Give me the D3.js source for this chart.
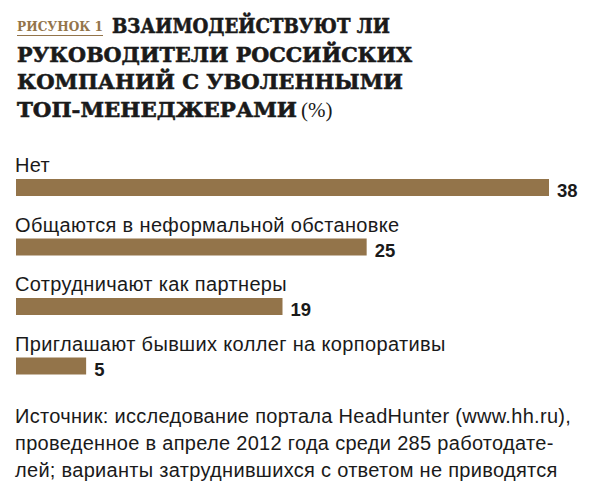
<!DOCTYPE html>
<html lang="ru">
<head>
<meta charset="UTF-8">
<title>Взаимодействуют ли руководители</title>
<script src="https://d3js.org/d3.v7.min.js"></script>
<style>
  body { margin: 0; padding: 0; background: #fff; }
  svg { display: block; }
</style>
</head>
<body>
<div id="chart"></div>
<script>
  const width = 600;
  const height = 488;

  const categories = [
    "Нет",
    "Общаются в неформальной обстановке",
    "Сотрудничают как партнеры",
    "Приглашают бывших коллег на корпоративы"
  ];
  const values = [38, 25, 19, 5];

  const titleLines = [
    "ВЗАИМОДЕЙСТВУЮТ ЛИ",
    "РУКОВОДИТЕЛИ РОССИЙСКИХ",
    "КОМПАНИЙ С УВОЛЕННЫМИ",
    "ТОП-МЕНЕДЖЕРАМИ"
  ];
  const sourceLines = [
    "Источник: исследование портала HeadHunter (www.hh.ru),",
    "проведенное в апреле 2012 года среди 285 работодате-",
    "лей; варианты затруднившихся с ответом не приводятся"
  ];

  const brown = "#93744a";
  const sans = "'Liberation Sans', Arial, sans-serif";
  const serif = "'DejaVu Serif', 'Liberation Serif', serif";

  const svg = d3.select("#chart").append("svg")
    .attr("width", width)
    .attr("height", height);

  // title block
  svg.append("text")
    .attr("x", 17).attr("y", 31)
    .attr("font-family", serif).attr("font-weight", "bold")
    .attr("font-size", 12).attr("fill", brown)
    .attr("textLength", 86).attr("lengthAdjust", "spacingAndGlyphs")
    .text("РИСУНОК 1");
  svg.append("line")
    .attr("x1", 17).attr("x2", 103).attr("y1", 35.5).attr("y2", 35.5)
    .attr("stroke", brown).attr("stroke-width", 1);

  const titleX = [112, 17, 17, 17];
  const titleW = [278, 395, 386, 280];
  const titleY = [33, 62, 89, 117];
  svg.append("g").selectAll("text")
    .data(titleLines)
    .join("text")
    .attr("x", (d, i) => titleX[i])
    .attr("y", (d, i) => titleY[i])
    .attr("font-family", serif).attr("font-weight", "bold")
    .attr("font-size", 21).attr("fill", "#1a1a1a")
    .attr("stroke", "#1a1a1a").attr("stroke-width", 0.6)
    .attr("textLength", (d, i) => titleW[i])
    .attr("lengthAdjust", "spacingAndGlyphs")
    .text(d => d);
  svg.append("text")
    .attr("x", 301).attr("y", 117)
    .attr("font-family", "'Liberation Serif', serif")
    .attr("font-size", 21).attr("fill", "#1a1a1a")
    .text("(%)");

  // bars
  const x = d3.scaleLinear().domain([0, 38]).range([16, 549]);
  const y = d3.scaleBand().domain(categories).range([145, 383]);

  const rows = svg.append("g").selectAll("g")
    .data(categories)
    .join("g")
    .attr("transform", d => `translate(0,${y(d)})`);

  rows.append("text")
    .attr("x", 15).attr("y", 27)
    .attr("font-family", sans).attr("font-size", 20)
    .attr("letter-spacing", 0.35).attr("fill", "#1a1a1a")
    .text(d => d);

  rows.append("rect")
    .attr("x", x(0)).attr("y", 34)
    .attr("width", (d, i) => x(values[i]) - x(0))
    .attr("height", 17)
    .attr("fill", brown);

  rows.append("text")
    .attr("x", (d, i) => x(values[i]) + 8).attr("y", 52)
    .attr("font-family", sans).attr("font-weight", "bold")
    .attr("font-size", 18.5).attr("fill", "#1a1a1a")
    .text((d, i) => values[i]);

  // source note
  svg.append("g").selectAll("text")
    .data(sourceLines)
    .join("text")
    .attr("x", 15)
    .attr("y", (d, i) => 423 + i * 27)
    .attr("font-family", sans).attr("font-size", 20)
    .attr("letter-spacing", 0.3).attr("fill", "#1a1a1a")
    .text(d => d);
</script>
</body>
</html>
